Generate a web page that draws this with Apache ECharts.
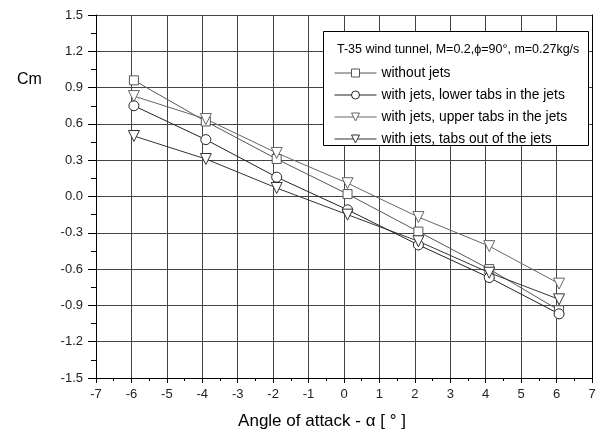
<!DOCTYPE html>
<html>
<head>
<meta charset="utf-8">
<script src="https://cdn.jsdelivr.net/npm/echarts@6/dist/echarts.min.js"></script>
<style>
  html, body { margin: 0; padding: 0; background: #fff; }
  #chart { width: 601px; height: 434px; }
</style>
</head>
<body>
<div id="chart"></div>
<script>
// angle of attack where the points were measured
const alpha = [-5.93, -3.9, -1.9, 0.1, 2.1, 4.1, 6.07]

// Cm values per configuration
const noJets = [0.96, 0.62, 0.31, 0.02, -0.29, -0.60, -0.94]
const lowerTabs = [0.75, 0.47, 0.16, -0.11, -0.40, -0.67, -0.97]
const upperTabs = [0.83, 0.64, 0.36, 0.11, -0.17, -0.41, -0.72]
const tabsOut = [0.50, 0.31, 0.07, -0.15, -0.37, -0.63, -0.85]

const names = [
  'without jets',
  'with jets, lower tabs in the jets',
  'with jets, upper tabs in the jets',
  'with jets, tabs out of the jets'
]

const font = 'Liberation Sans, Arial, sans-serif'

const chart = echarts.init(document.getElementById('chart'))

function pairs(ys) {
  return alpha.map((a, i) => [a, ys[i]])
}

function mkSeries(name, ys, symbol, size, color, rotate) {
  return {
    name: name,
    type: 'line',
    data: pairs(ys),
    symbol: symbol,
    symbolSize: size,
    symbolRotate: rotate || 0,
    showAllSymbol: true,
    lineStyle: { color: color, width: 1 },
    itemStyle: { color: '#fff', borderColor: color, borderWidth: 1 },
    emphasis: { disabled: true }
  }
}

const option = {
  animation: false,
  grid: { left: 96, right: 9, top: 15, bottom: 56 },
  xAxis: {
    type: 'value',
    min: -7, max: 7, interval: 1,
    axisLine: { onZero: false, lineStyle: { color: '#000' } },
    minorTick: { show: true, splitNumber: 2 },
    axisLabel: { fontFamily: font, fontSize: 13, color: '#222', margin: 10 },
    splitLine: { show: true, lineStyle: { color: '#444' } }
  },
  yAxis: [
    {
      type: 'value',
      min: -1.5, max: 1.5, interval: 0.3,
      axisLine: { show: true, onZero: false, lineStyle: { color: '#000' } },
      axisTick: { show: true, length: 8, lineStyle: { color: '#000' } },
      minorTick: { show: true, splitNumber: 2, length: 5 },
      axisLabel: {
        fontFamily: font, fontSize: 13, color: '#222', margin: 13,
        formatter: v => v.toFixed(1)
      },
      splitLine: { show: true, lineStyle: { color: '#444' } }
    },
    {
      type: 'value', position: 'right',
      min: -1.5, max: 1.5, interval: 0.3,
      axisLine: { show: true, onZero: false, lineStyle: { color: '#000' } },
      axisTick: { show: false }, axisLabel: { show: false }, splitLine: { show: false }
    }
  ],
  legend: {
    orient: 'vertical',
    left: 329, top: 61,
    itemWidth: 42, itemHeight: 10, itemGap: 8,
    data: names,
    itemStyle: { color: '#fff', borderWidth: 1 },
    lineStyle: { width: 1 },
    textStyle: { fontFamily: font, fontSize: 13.8, color: '#000' },
    z: 10
  },
  graphic: [
    {
      type: 'rect', z: 8,
      shape: { x: 323.5, y: 31.5, width: 265, height: 114 },
      style: { fill: '#fff', stroke: '#000', lineWidth: 1 }
    },
    {
      type: 'text', z: 12,
      left: 337, top: 43,
      style: {
        text: 'T-35 wind tunnel, M=0.2,ϕ=90°, m=0.27kg/s',
        font: '12.5px ' + font, fill: '#000'
      }
    },
    {
      type: 'text', z: 12,
      left: 17, top: 72,
      style: { text: 'Cm', font: '16px ' + font, fill: '#000' }
    },
    {
      type: 'text', z: 12,
      style: {
        x: 322, y: 421, text: 'Angle of attack - α [ ° ]',
        font: '17px ' + font, fill: '#000',
        textAlign: 'center', textVerticalAlign: 'middle'
      }
    }
  ],
  series: [
    mkSeries(names[0], noJets, 'rect', 9, '#555'),
    mkSeries(names[1], lowerTabs, 'circle', 10, '#222'),
    mkSeries(names[2], upperTabs, 'triangle', 11, '#666', 180),
    mkSeries(names[3], tabsOut, 'triangle', 11, '#333', 180)
  ]
}

chart.setOption(option)
window.addEventListener('resize', () => {
  chart.resize()
})
</script>
</body>
</html>
